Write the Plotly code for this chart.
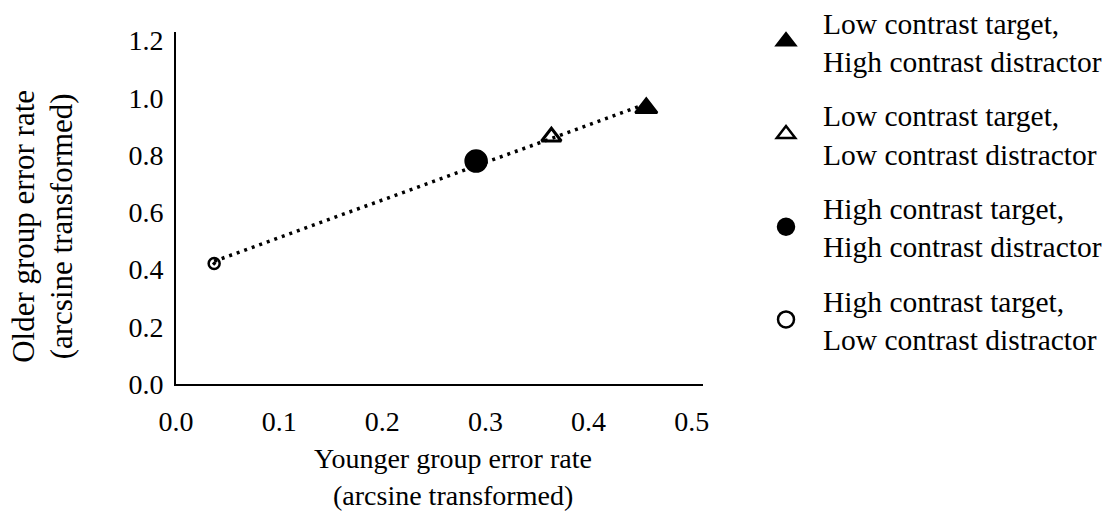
import numpy as np
import plotly.graph_objects as go

# Data
conditions = [
    "Low contrast target,<br>High contrast distractor",
    "Low contrast target,<br>Low contrast distractor",
    "High contrast target,<br>High contrast distractor",
    "High contrast target,<br>Low contrast distractor",
]
younger = [0.456, 0.364, 0.291, 0.037]
older = [0.964, 0.864, 0.779, 0.421]

x_ticks = [0.0, 0.1, 0.2, 0.3, 0.4, 0.5]
y_ticks = [0.0, 0.2, 0.4, 0.6, 0.8, 1.0, 1.2]

x_title = ["Younger group error rate", "(arcsine transformed)"]
y_title = ["Older group error rate", "(arcsine transformed)"]

# styles
plot_symbols = ["triangle-up", "triangle-up-open", "circle", "circle-open-dot"]
plot_sizes = [19, 17, 21, 11]
plot_lw = [2.5, 3, 2.5, 2.5]
legend_symbols = ["triangle-up", "triangle-up-open", "circle", "circle-open"]

FONT = "Liberation Serif, Times New Roman, serif"

fig = go.Figure()

# linear trendline through data
slope, intercept = np.polyfit(younger, older, 1)
xs = np.array([min(younger), max(younger)])
fig.add_trace(go.Scatter(
    x=xs, y=slope * xs + intercept, mode="lines",
    line=dict(color="black", width=3.5, dash="3px,5px"),
    showlegend=False, hoverinfo="skip"))

for i in range(len(conditions)):
    fig.add_trace(go.Scatter(
        x=[younger[i]], y=[older[i]], mode="markers",
        marker=dict(symbol=plot_symbols[i], size=plot_sizes[i], color="black",
                    line=dict(color="black", width=plot_lw[i])),
        showlegend=False, name=conditions[i]))

# legend-only entries
for i in range(len(conditions)):
    fig.add_trace(go.Scatter(
        x=[None], y=[None], mode="markers", name=conditions[i],
        legendgroup=str(i),
        marker=dict(symbol=legend_symbols[i], size=16, color="black",
                    line=dict(color="black", width=2.5))))

fig.update_layout(
    width=1117, height=524,
    margin=dict(l=176, r=414, t=32, b=140, autoexpand=False),
    plot_bgcolor="white", paper_bgcolor="white",
    font=dict(family=FONT, size=28, color="black"),
    showlegend=True,
    legend=dict(x=1.0873, y=1.101, xanchor="left", yanchor="top",
                font=dict(family=FONT, size=29.5, color="black"),
                tracegroupgap=13, valign="middle", itemwidth=64,
                maxheight=520,
                bgcolor="rgba(0,0,0,0)"),
    xaxis=dict(range=[0, 0.511], tickvals=x_ticks,
               ticktext=[f"{v:.1f}" for v in x_ticks],
               showgrid=False, zeroline=False, showline=True,
               linecolor="black", linewidth=2, ticks="",
               ticklabelstandoff=11,
               tickfont=dict(family=FONT, size=28, color="black")),
    yaxis=dict(range=[0, 1.23], tickvals=y_ticks,
               ticktext=[f"{v:.1f}" for v in y_ticks],
               showgrid=False, zeroline=False, showline=True,
               linecolor="black", linewidth=2, ticks="",
               ticklabelstandoff=5,
               tickfont=dict(family=FONT, size=28, color="black")),
    annotations=[
        dict(text=x_title[0], xref="paper", yref="paper", x=0.525, y=-0.211,
             xanchor="center", yanchor="middle", showarrow=False,
             font=dict(family=FONT, size=28, color="black")),
        dict(text=x_title[1], xref="paper", yref="paper", x=0.525, y=-0.316,
             xanchor="center", yanchor="middle", showarrow=False,
             font=dict(family=FONT, size=28, color="black")),
        dict(text=y_title[0], xref="paper", yref="paper", x=-0.290, y=0.447,
             xanchor="center", yanchor="middle", showarrow=False,
             textangle=-90, font=dict(family=FONT, size=31, color="black")),
        dict(text=y_title[1], xref="paper", yref="paper", x=-0.217, y=0.447,
             xanchor="center", yanchor="middle", showarrow=False,
             textangle=-90, font=dict(family=FONT, size=31, color="black")),
    ],
)

fig.write_html("out.html")
